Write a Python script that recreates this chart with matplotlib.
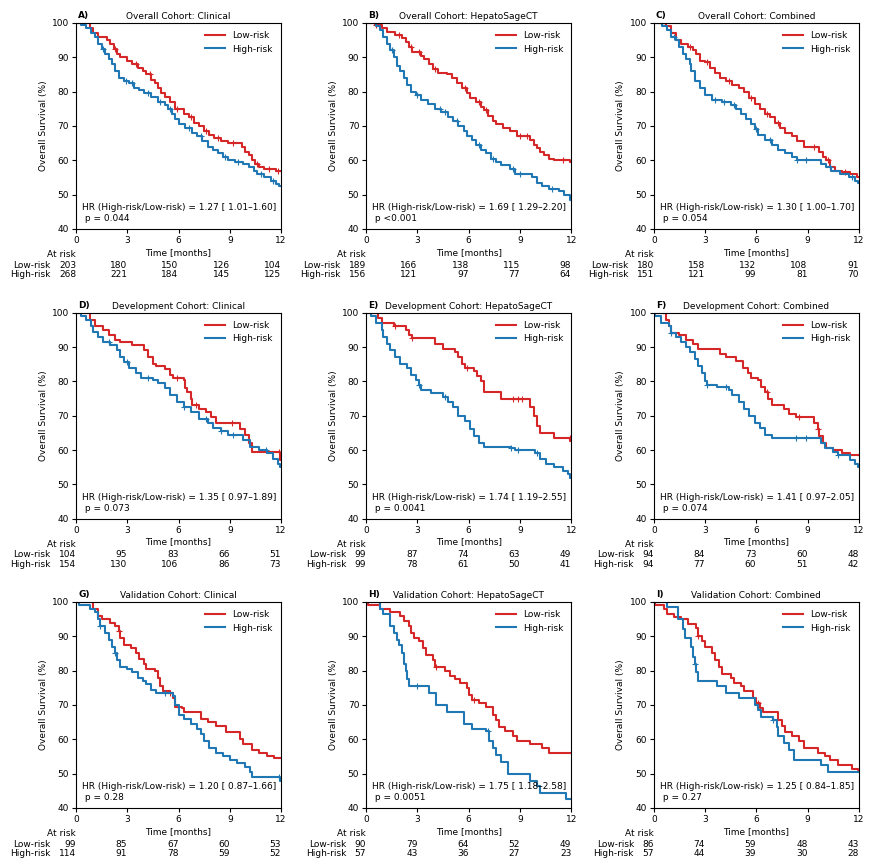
import matplotlib
matplotlib.use("Agg")
import matplotlib.pyplot as plt
from matplotlib.transforms import offset_copy, blended_transform_factory

# Kaplan-Meier curves: (month, survival %) - value holds from that month on
A_LOW = [(0, 100), (0.8, 98.5), (1.0, 97), (1.3, 96), (1.8, 95), (2.0, 94), (2.2, 92.5), (2.4, 91), (2.6, 90),
         (3.0, 89), (3.3, 88), (3.6, 87), (3.9, 86), (4.1, 85), (4.4, 83.5), (4.6, 82.5), (4.8, 81), (5.0, 79.5),
         (5.2, 78.5), (5.5, 77), (5.8, 75), (6.3, 73.5), (6.6, 72.5), (6.9, 71), (7.2, 70), (7.5, 68.5), (7.8, 67.5),
         (8.1, 66.5), (8.5, 65.5), (8.9, 65), (9.7, 64), (9.9, 62.5), (10.1, 61.5), (10.3, 60), (10.5, 59),
         (10.7, 58), (11.0, 57.5), (11.7, 57)]
A_HIGH = [(0, 100), (0.3, 99.5), (0.6, 98.5), (0.9, 97), (1.1, 96), (1.3, 94), (1.5, 92.5), (1.7, 91), (1.9, 89.5),
          (2.1, 88), (2.3, 86), (2.5, 84), (2.8, 83), (3.1, 82.5), (3.4, 81), (3.7, 80.5), (4.0, 79.5), (4.4, 78.5),
          (4.8, 77), (5.2, 76), (5.4, 75), (5.6, 73.5), (5.8, 72), (6.0, 70.5), (6.4, 69.5), (6.8, 68), (7.1, 67),
          (7.4, 65.5), (7.7, 64), (8.0, 63), (8.3, 62), (8.6, 61), (8.9, 60), (9.3, 59.5), (9.8, 59), (10.1, 58),
          (10.4, 57), (10.6, 56), (11.0, 55), (11.4, 54), (11.7, 53), (11.9, 52.5)]
B_LOW = [(0, 100), (0.5, 99.5), (0.9, 98.5), (1.2, 97.5), (1.7, 96.5), (2.1, 95.5), (2.3, 94.5), (2.5, 93),
         (2.7, 91.5), (3.2, 90.5), (3.4, 89.5), (3.7, 88), (3.9, 86.5), (4.2, 85.5), (4.7, 85), (5.0, 84),
         (5.3, 82.5), (5.6, 81), (5.9, 79.5), (6.1, 78), (6.4, 77), (6.7, 75.5), (6.9, 74.5), (7.1, 73), (7.4, 71.5),
         (7.6, 70.5), (8.0, 69.5), (8.4, 68.5), (8.8, 67), (9.6, 66), (9.8, 64.5), (10.0, 63.5), (10.2, 62.5),
         (10.4, 61.5), (10.7, 60.5), (11.0, 60), (11.9, 59.5)]
B_HIGH = [(0, 100), (0.6, 99), (0.8, 98), (1.0, 96), (1.2, 94), (1.4, 92), (1.6, 90), (1.8, 87.5), (2.0, 86),
          (2.2, 84), (2.4, 82), (2.6, 80), (2.9, 79), (3.2, 77.5), (3.6, 76.5), (4.0, 75), (4.4, 74), (4.8, 72.5),
          (5.1, 71.5), (5.4, 70), (5.7, 68.5), (5.9, 67), (6.2, 66), (6.4, 64.5), (6.7, 63), (7.0, 62), (7.3, 60.5),
          (7.6, 59.5), (7.9, 58.5), (8.4, 57.5), (8.7, 56), (9.7, 55), (10.0, 53.5), (10.3, 52.5), (10.7, 51.5),
          (11.3, 51), (11.6, 50), (11.9, 48.5)]
C_LOW = [(0, 100), (0.7, 99), (1.0, 97), (1.3, 95), (1.6, 94), (2.0, 93), (2.3, 92), (2.5, 91), (2.7, 89),
         (3.0, 88.5), (3.3, 87), (3.6, 85.5), (3.9, 84), (4.2, 83), (4.6, 82), (5.0, 81), (5.3, 80), (5.6, 78),
         (5.9, 76.5), (6.2, 75), (6.5, 73.5), (6.8, 72.5), (7.1, 71), (7.4, 69.5), (7.7, 68), (8.1, 67), (8.4, 65.5),
         (8.8, 64), (9.7, 62.5), (9.9, 61), (10.1, 60), (10.3, 58), (10.6, 57), (11.0, 56.5), (11.5, 56), (11.9, 55)]
C_HIGH = [(0, 100), (0.5, 99), (0.8, 98), (1.0, 96), (1.3, 95), (1.5, 93), (1.7, 91), (1.9, 89.5), (2.1, 88),
          (2.2, 86), (2.4, 83), (2.7, 81), (3.0, 79), (3.4, 77.5), (4.0, 77), (4.5, 76), (4.8, 75), (5.1, 73.5),
          (5.4, 72), (5.7, 70.5), (5.9, 69), (6.1, 67.5), (6.5, 66), (6.9, 64.5), (7.3, 63), (7.7, 62), (8.1, 61),
          (8.4, 60), (9.8, 59), (10.1, 58), (10.4, 57), (10.9, 56), (11.4, 55), (11.8, 54), (11.95, 53.5)]
D_LOW = [(0, 100), (0.8, 98), (1.1, 96), (1.6, 95), (1.9, 93.5), (2.3, 92), (2.6, 91.5), (3.3, 90.5), (4.0, 89),
         (4.2, 87), (4.5, 85), (4.7, 84.5), (5.2, 83.5), (5.5, 82), (5.7, 81), (6.3, 80.5), (6.4, 78), (6.5, 77),
         (6.7, 75), (6.8, 73), (7.2, 72), (7.6, 71), (7.9, 69.5), (8.2, 68), (9.6, 66), (9.9, 64.5), (10.1, 62),
         (10.3, 59.5), (11.95, 57)]
D_HIGH = [(0, 100), (0.3, 99), (0.6, 98), (0.9, 96), (1.0, 94.5), (1.3, 93), (1.6, 91.5), (2.0, 90.5), (2.4, 89),
          (2.6, 87), (2.8, 85.5), (3.1, 84), (3.5, 82.5), (3.8, 81), (4.5, 80.5), (4.8, 79.5), (5.2, 78), (5.5, 76),
          (5.9, 74), (6.3, 72.5), (6.7, 71), (7.2, 69), (7.7, 68), (8.0, 66.5), (8.5, 65.5), (8.9, 64.5), (9.8, 63),
          (10.2, 61), (10.7, 60), (11.2, 59), (11.5, 57.5), (11.8, 56), (11.95, 55)]
E_LOW = [(0, 100), (0.7, 98.5), (0.9, 97), (1.6, 96), (2.3, 95), (2.5, 93.5), (2.7, 92.5), (4.0, 91), (4.5, 89.5),
         (5.2, 88.5), (5.4, 87), (5.6, 85), (5.8, 84), (6.3, 83), (6.5, 81.5), (6.7, 80), (6.9, 77), (7.9, 75),
         (9.6, 72.5), (9.8, 70), (10.0, 67), (10.2, 65), (11.0, 63.5), (11.95, 62.5)]
E_HIGH = [(0, 100), (0.3, 99), (0.6, 97), (0.9, 95), (1.0, 93), (1.2, 91), (1.4, 89), (1.7, 87), (2.0, 85),
          (2.4, 84), (2.6, 82), (2.9, 80.5), (3.1, 79), (3.2, 77.5), (3.8, 76.5), (4.5, 75.5), (4.8, 74), (5.1, 72.5),
          (5.4, 70), (5.8, 68.5), (6.1, 66), (6.3, 64), (6.6, 62), (6.9, 61), (8.5, 60.5), (8.7, 60), (9.9, 59),
          (10.2, 57.5), (10.5, 56), (11.0, 55), (11.5, 54), (11.8, 53), (11.95, 52)]
F_LOW = [(0, 100), (0.7, 98), (0.9, 96), (1.0, 94), (1.5, 93.5), (1.9, 92), (2.3, 91), (2.6, 89.5), (3.9, 88),
         (4.2, 87), (4.8, 86), (5.2, 84), (5.5, 82.5), (5.7, 81), (6.1, 80.5), (6.3, 78.5), (6.5, 77), (6.7, 75),
         (6.9, 73), (7.6, 72), (7.9, 70.5), (8.3, 69.5), (9.4, 68), (9.6, 66), (9.7, 64), (9.9, 62), (10.1, 60.5),
         (10.5, 60), (11.0, 59), (11.5, 58.5)]
F_HIGH = [(0, 100), (0.1, 99), (0.4, 97), (0.9, 96), (1.0, 94), (1.3, 93), (1.6, 91.5), (1.9, 90), (2.1, 88.5),
          (2.4, 86.5), (2.6, 84.5), (2.8, 82.5), (3.0, 80), (3.1, 79), (3.7, 78.5), (4.4, 77.5), (4.6, 76), (5.0, 74),
          (5.3, 72), (5.6, 70), (5.9, 68), (6.2, 66.5), (6.5, 64.5), (6.9, 63.5), (9.8, 62), (10.0, 60.5),
          (10.5, 59.5), (10.8, 58.5), (11.5, 57), (11.8, 56), (11.95, 55)]
G_LOW = [(0, 100), (1.0, 98), (1.3, 96), (1.5, 95), (2.0, 94), (2.3, 93), (2.5, 91.5), (2.6, 89.5), (2.8, 87.5),
         (3.2, 86.5), (3.5, 85), (3.7, 83.5), (4.0, 82), (4.1, 80.5), (4.6, 80), (4.8, 78), (4.9, 75.5), (5.1, 74),
         (5.5, 73.5), (5.7, 72), (5.8, 69.5), (6.2, 69), (6.3, 68), (7.3, 66), (7.7, 65), (8.2, 64), (8.8, 62),
         (9.6, 60), (9.8, 58.5), (10.3, 57), (10.7, 56), (11.2, 55), (11.6, 54.5)]
G_HIGH = [(0, 100), (0.2, 99), (0.8, 98), (1.1, 97), (1.3, 95), (1.4, 93), (1.7, 91), (1.9, 89), (2.1, 87),
          (2.3, 85), (2.4, 83), (2.6, 81), (3.0, 80.5), (3.3, 79.5), (3.6, 78), (3.9, 77), (4.1, 76), (4.4, 74.5),
          (4.7, 73.5), (5.7, 72.5), (5.8, 70), (6.0, 67), (6.3, 66), (6.7, 64.5), (7.1, 63), (7.3, 61.5), (7.5, 59.5),
          (7.8, 57.5), (8.2, 56), (8.6, 55), (9.0, 54), (9.4, 53), (9.9, 52), (10.2, 50.5), (10.3, 49), (11.95, 48)]
H_LOW = [(0, 100), (0.1, 99), (0.8, 98), (1.4, 97), (2.0, 96), (2.2, 94.5), (2.5, 93), (2.6, 91), (2.8, 89.5),
         (3.1, 88.5), (3.3, 86.5), (3.5, 84.5), (3.9, 83), (4.0, 81), (4.6, 80), (4.9, 78.5), (5.2, 77.5), (5.5, 76.5),
         (5.9, 75), (6.0, 73), (6.2, 71.5), (6.6, 70.5), (7.0, 69.5), (7.4, 67), (7.6, 65.5), (7.8, 63.5), (8.1, 62.5),
         (8.6, 61), (8.8, 59.5), (9.6, 58.5), (10.3, 57.5), (10.7, 56)]
H_HIGH = [(0, 100), (0.8, 98), (1.0, 96.5), (1.4, 93), (1.6, 91), (1.8, 89), (1.9, 87.5), (2.1, 85), (2.2, 82),
          (2.3, 80), (2.4, 77.5), (2.5, 75.5), (3.7, 73.5), (4.1, 70), (4.7, 68), (5.7, 64.5), (6.2, 63), (7.0, 62.5),
          (7.2, 59.5), (7.4, 57.5), (7.6, 55.5), (7.9, 53.5), (8.3, 50), (9.6, 48), (10.0, 46.5), (10.2, 44.5),
          (11.7, 42.5)]
I_LOW = [(0, 100), (0.1, 99), (0.6, 98), (0.8, 96.5), (1.2, 95.5), (1.6, 95), (2.0, 93.5), (2.5, 92.5), (2.6, 90),
         (2.8, 88.5), (3.0, 87), (3.4, 85), (3.6, 83), (3.8, 81), (4.0, 79), (4.5, 78), (4.7, 76.5), (5.1, 75.5),
         (5.3, 74), (5.8, 72), (6.0, 70.5), (6.2, 69), (6.4, 68), (7.3, 65.5), (7.5, 64), (7.7, 62), (8.1, 61),
         (8.5, 59.5), (8.8, 57.5), (9.6, 56), (10.0, 55), (10.3, 54), (10.8, 52.5), (11.6, 51.5), (11.95, 51)]
I_HIGH = [(0, 100), (0.8, 98.5), (1.4, 95), (1.7, 92), (1.8, 89.5), (2.2, 87), (2.3, 84), (2.4, 82), (2.5, 79.5),
          (2.6, 77), (3.7, 75.5), (4.2, 73.5), (5.0, 72), (5.9, 70), (6.1, 68.5), (6.3, 66.5), (7.0, 65.5),
          (7.2, 63.5), (7.3, 61), (7.6, 59), (7.9, 57), (8.2, 54), (9.8, 52.5), (10.2, 50.5)]

# censoring times (months) seen as small "+" marks on each curve
A_LOW_CENS = [2.3, 3.5, 4.3, 5.9, 6.7, 7.6, 8.3, 9.2, 10.6, 11.3, 11.8]
A_HIGH_CENS = [1.6, 2.9, 3.3, 4.2, 4.9, 5.5, 6.6, 7.3, 8.7, 9.5, 10.8, 11.5]
B_LOW_CENS = [0.6, 1.9, 2.6, 3.1, 4.0, 5.8, 6.6, 7.0, 9.0, 9.4, 11.5]
B_HIGH_CENS = [1.5, 3.0, 4.3, 4.6, 5.3, 6.6, 7.4, 8.6, 9.0, 10.9]
C_LOW_CENS = [0.5, 2.1, 3.1, 4.4, 5.7, 6.6, 7.3, 9.4, 10.2, 11.2]
C_HIGH_CENS = [1.2, 3.6, 4.1, 4.7, 6.0, 6.8, 8.4, 8.9, 10.3, 11.6]
D_LOW_CENS = [5.9, 7.0, 9.1, 11.9]
D_HIGH_CENS = [1.9, 3.0, 4.2, 6.3, 7.6, 8.5, 9.2, 11.1]
E_LOW_CENS = [1.7, 2.7, 5.9, 8.6, 8.9, 9.1, 11.9]
E_HIGH_CENS = [3.1, 4.6, 8.5, 8.9, 10.0]
F_LOW_CENS = [6.6, 8.5, 9.6]
F_HIGH_CENS = [1.0, 3.1, 4.2, 8.3, 8.9, 10.8]
G_LOW_CENS = [2.5, 5.5]
G_HIGH_CENS = [1.4, 2.3, 5.2, 11.9]
H_LOW_CENS = [4.1, 6.3]
H_HIGH_CENS = [3.0, 7.1]
I_LOW_CENS = [2.6, 6.1]
I_HIGH_CENS = [2.4, 7.0]

# numbers at risk at 0, 3, 6, 9, 12 months
A_RISK_LOW = [203, 180, 150, 126, 104]
A_RISK_HIGH = [268, 221, 184, 145, 125]
B_RISK_LOW = [189, 166, 138, 115, 98]
B_RISK_HIGH = [156, 121, 97, 77, 64]
C_RISK_LOW = [180, 158, 132, 108, 91]
C_RISK_HIGH = [151, 121, 99, 81, 70]
D_RISK_LOW = [104, 95, 83, 66, 51]
D_RISK_HIGH = [154, 130, 106, 86, 73]
E_RISK_LOW = [99, 87, 74, 63, 49]
E_RISK_HIGH = [99, 78, 61, 50, 41]
F_RISK_LOW = [94, 84, 73, 60, 48]
F_RISK_HIGH = [94, 77, 60, 51, 42]
G_RISK_LOW = [99, 85, 67, 60, 53]
G_RISK_HIGH = [114, 91, 78, 59, 52]
H_RISK_LOW = [90, 79, 64, 52, 49]
H_RISK_HIGH = [57, 43, 36, 27, 23]
I_RISK_LOW = [86, 74, 59, 48, 43]
I_RISK_HIGH = [57, 44, 39, 30, 28]

RISK_TIMES = [0, 3, 6, 9, 12]
LETTERS = ["A)", "B)", "C)", "D)", "E)", "F)", "G)", "H)", "I)"]
TITLES = ["Overall Cohort: Clinical", "Overall Cohort: HepatoSageCT", "Overall Cohort: Combined",
          "Development Cohort: Clinical", "Development Cohort: HepatoSageCT", "Development Cohort: Combined",
          "Validation Cohort: Clinical", "Validation Cohort: HepatoSageCT", "Validation Cohort: Combined"]
HR_TEXT = ["1.27 [ 1.01\u20131.60]", "1.69 [ 1.29\u20132.20]", "1.30 [ 1.00\u20131.70]",
           "1.35 [ 0.97\u20131.89]", "1.74 [ 1.19\u20132.55]", "1.41 [ 0.97\u20132.05]",
           "1.20 [ 0.87\u20131.66]", "1.75 [ 1.18\u20132.58]", "1.25 [ 0.84\u20131.85]"]
P_TEXT = ["= 0.044", "<0.001", "= 0.054", "= 0.073", "= 0.0041", "= 0.074", "= 0.28", "= 0.0051", "= 0.27"]

CURVES = [(A_LOW, A_HIGH), (B_LOW, B_HIGH), (C_LOW, C_HIGH), (D_LOW, D_HIGH), (E_LOW, E_HIGH),
          (F_LOW, F_HIGH), (G_LOW, G_HIGH), (H_LOW, H_HIGH), (I_LOW, I_HIGH)]
CENS = [(A_LOW_CENS, A_HIGH_CENS), (B_LOW_CENS, B_HIGH_CENS), (C_LOW_CENS, C_HIGH_CENS),
        (D_LOW_CENS, D_HIGH_CENS), (E_LOW_CENS, E_HIGH_CENS), (F_LOW_CENS, F_HIGH_CENS),
        (G_LOW_CENS, G_HIGH_CENS), (H_LOW_CENS, H_HIGH_CENS), (I_LOW_CENS, I_HIGH_CENS)]
RISKS = [(A_RISK_LOW, A_RISK_HIGH), (B_RISK_LOW, B_RISK_HIGH), (C_RISK_LOW, C_RISK_HIGH),
         (D_RISK_LOW, D_RISK_HIGH), (E_RISK_LOW, E_RISK_HIGH), (F_RISK_LOW, F_RISK_HIGH),
         (G_RISK_LOW, G_RISK_HIGH), (H_RISK_LOW, H_RISK_HIGH), (I_RISK_LOW, I_RISK_HIGH)]

FS = 6.5
plt.rcParams['font.size'] = FS

fig = plt.figure(figsize=(8.74, 8.65), dpi=100)
lefts = [0.087, 0.419, 0.748]
bottoms = [0.7353, 0.4003, 0.0659]
w, h = 0.2346, 0.2382


def surv_at(curve, t):
    s = curve[0][1]
    for ti, si in curve:
        if ti <= t:
            s = si
    return s


def draw_km(ax, curve, cens, color, label):
    ts = [p[0] for p in curve] + [12]
    ss = [p[1] for p in curve] + [curve[-1][1]]
    ax.step(ts, ss, where='post', color=color, lw=1.5, label=label)
    ax.plot(cens, [surv_at(curve, t) for t in cens], ls='none', marker='+', ms=4, mew=0.8, color=color)


for k in range(9):
    r, c = divmod(k, 3)
    ax = fig.add_axes([lefts[c], bottoms[r], w, h])
    low, high = CURVES[k]
    cl, ch = CENS[k]
    draw_km(ax, low, cl, 'tab:red', 'Low-risk')
    draw_km(ax, high, ch, 'tab:blue', 'High-risk')

    ax.set_xlim(0, 12)
    ax.set_ylim(40, 100)
    ax.set_xticks(RISK_TIMES)
    ax.set_yticks(range(40, 101, 10))
    ax.tick_params(labelsize=FS, length=3, pad=2)
    ax.set_xlabel("Time [months]", fontsize=FS, labelpad=2)
    ax.set_ylabel("Overall Survival (%)", fontsize=FS, labelpad=3)
    ax.set_title(TITLES[k], fontsize=FS, pad=3)
    ax.text(0.01, 1.012, LETTERS[k], transform=ax.transAxes, fontsize=FS, fontweight='bold',
            ha='left', va='bottom')
    ax.legend(loc='upper right', frameon=False, fontsize=FS, handlelength=2.2)
    ax.text(0.03, 0.03, "HR (High-risk/Low-risk) = " + HR_TEXT[k] + "\n p " + P_TEXT[k],
            transform=ax.transAxes, fontsize=FS, ha='left', va='bottom')

    # at-risk table under the axis
    trans = blended_transform_factory(ax.transData, ax.transAxes)
    rlow, rhigh = RISKS[k]
    ndig = max(len(str(rlow[0])), len(str(rhigh[0])))
    lab_trans = offset_copy(trans, fig=fig, x=-(ndig * 0.636 * FS + 6), y=0, units='points')
    ax.text(0, -0.125, "At risk", transform=trans, ha='right', va='center', fontsize=FS)
    for yy, name, counts in [(-0.175, "Low-risk", rlow), (-0.223, "High-risk", rhigh)]:
        ax.text(0, yy, name, transform=lab_trans, ha='right', va='center', fontsize=FS)
        for t, n in zip(RISK_TIMES, counts):
            ax.text(t, yy, str(n), transform=trans, ha='right', va='center', fontsize=FS)

fig.savefig("out.png", dpi=100)
